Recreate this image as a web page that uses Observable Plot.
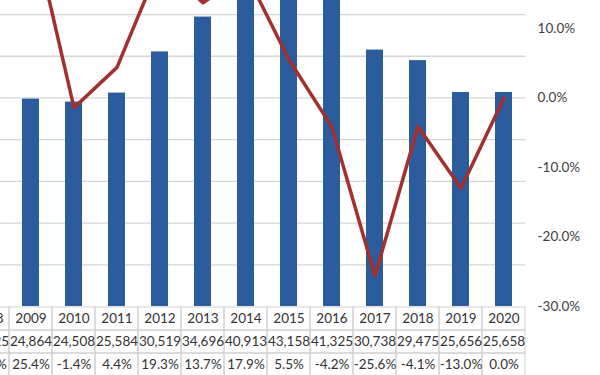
<!DOCTYPE html>
<html>
<head>
<meta charset="utf-8">
<script src="https://cdn.jsdelivr.net/npm/d3@7"></script>
<script src="https://cdn.jsdelivr.net/npm/@observablehq/plot@0.6"></script>
<style>
  html, body { margin: 0; padding: 0; background: #ffffff; }
  #wrap { position: relative; width: 600px; height: 375px; overflow: hidden; background: #ffffff; }
  #chart, #table { position: absolute; left: 0; }
  #chart { top: 0; }
  #table { top: 305px; }
</style>
</head>
<body>
<div id="wrap"><div id="chart"></div><div id="table"></div></div>
<script>
// ---- data ----
const years  = [2008, 2009, 2010, 2011, 2012, 2013, 2014, 2015, 2016, 2017, 2018, 2019, 2020];
const values = [19825, 24864, 24508, 25584, 30519, 34696, 40913, 43158, 41325, 30738, 29475, 25656, 25658];
const growth = [14.9, 25.4, -1.4, 4.4, 19.3, 13.7, 17.9, 5.5, -4.2, -25.6, -4.1, -13.0, 0.0];
const leftTicks = [5000, 10000, 15000, 20000, 25000, 30000, 35000, 40000, 45000, 50000];
const pctTicks  = [-30, -20, -10, 0, 10];
const rowNames  = ["year", "value", "growth"];

const data = years.map((year, i) => ({year, value: values[i], growth: growth[i]}));

// secondary (percent) axis mapped onto the primary value axis: -30% .. 30% -> 0 .. 50000
const leftMax = 50000, pMin = -30, pMax = 30;
const toY = p => (p - pMin) / (pMax - pMin) * leftMax;
const fromY = v => v / leftMax * (pMax - pMin) + pMin;

const barColor = "#2B5C9E";
const lineColor = "#A3302E";
const font = "Lato, 'Open Sans', sans-serif";
const xRange = [-34.6, 525.6];

const chart = Plot.plot({
  width: 600,
  height: 375,
  marginTop: 0,
  marginLeft: 0,
  marginRight: 74.4,
  marginBottom: 69,
  style: {fontFamily: font, fontSize: "13.5px", color: "#404040", background: "transparent"},
  x: {type: "band", domain: years, range: xRange, paddingInner: 0.6, paddingOuter: 0.3, axis: null},
  y: {domain: [0, leftMax], range: [306, -111.1], axis: null},
  marks: [
    Plot.gridY(leftTicks, {stroke: "#d6d6d6", strokeOpacity: 1, strokeWidth: 1.3}),
    Plot.barY(data, {x: "year", y: "value", fill: barColor}),
    Plot.line(data, {x: "year", y: d => toY(d.growth), stroke: lineColor, strokeWidth: 3.5,
                     strokeLinejoin: "round", strokeLinecap: "round"}),
    Plot.axisY(pctTicks.map(toY), {anchor: "right", tickSize: 0, tickPadding: 11.5, label: null,
                                   tickFormat: v => fromY(v).toFixed(1) + "%"})
  ]
});
document.getElementById("chart").appendChild(chart);

// ---- data table under the chart ----
const fmtVal = d3.format(",");
const tableRows = [];
data.forEach(d => {
  tableRows.push({year: d.year, row: "year", label: String(d.year)});
  tableRows.push({year: d.year, row: "value", label: fmtVal(d.value)});
  tableRows.push({year: d.year, row: "growth", label: d.growth.toFixed(1) + "%"});
});

const table = Plot.plot({
  width: 600,
  height: 70,
  margin: 0,
  style: {fontFamily: font, fontSize: "13.5px", color: "#333333", background: "transparent"},
  x: {type: "band", domain: years, range: xRange, padding: 0, axis: null},
  y: {type: "band", domain: rowNames, range: [1, 71], padding: 0, axis: null},
  marks: [
    Plot.cell(tableRows, {x: "year", y: "row", fill: "none", stroke: "#cfcfcf", strokeWidth: 1}),
    Plot.text(tableRows, {x: "year", y: "row", text: "label", fill: "#333333", fontSize: 13.5})
  ]
});
document.getElementById("table").appendChild(table);
</script>
</body>
</html>
